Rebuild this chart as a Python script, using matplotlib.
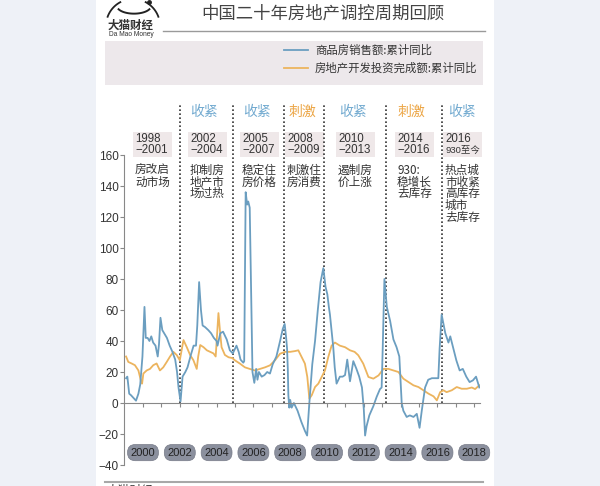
import numpy as np
import matplotlib
matplotlib.use('Agg')
import matplotlib.pyplot as plt
from matplotlib.patches import Rectangle
from matplotlib.font_manager import FontProperties

CJK = ['Noto Sans CJK SC', 'DejaVu Sans']
NUM = ['Liberation Sans', 'Noto Sans CJK SC', 'DejaVu Sans']

title = "中国二十年房地产调控周期回顾"
series_names = ["商品房销售额:累计同比", "房地产开发投资完成额:累计同比"]

# 商品房销售额:累计同比 (fractional year, %)
blue_t = [1999.08, 1999.15, 1999.25, 1999.35, 1999.5, 1999.62, 1999.75, 1999.85, 1999.97,
          2000.08, 2000.15, 2000.25, 2000.35, 2000.45, 2000.55, 2000.68, 2000.8, 2000.87,
          2000.95, 2001.05, 2001.15, 2001.3, 2001.45, 2001.6, 2001.75, 2001.85, 2001.93,
          2002.04, 2002.15, 2002.3, 2002.42, 2002.6, 2002.75, 2002.88, 2002.95, 2003.05,
          2003.15, 2003.24, 2003.37, 2003.55, 2003.7, 2003.85, 2004.0, 2004.05, 2004.2,
          2004.35, 2004.55, 2004.72, 2004.88, 2005.08, 2005.2, 2005.3, 2005.45, 2005.5,
          2005.58, 2005.66, 2005.72, 2005.8, 2005.95, 2006.05, 2006.15, 2006.22, 2006.3,
          2006.45, 2006.6, 2006.75, 2006.9, 2007.05, 2007.25, 2007.45, 2007.6, 2007.7,
          2007.78, 2007.83, 2007.87, 2007.9, 2007.95, 2008.0, 2008.08, 2008.2, 2008.4,
          2008.6, 2008.8, 2008.92, 2009.04, 2009.2, 2009.35, 2009.5, 2009.65, 2009.8,
          2009.92, 2010.02, 2010.1, 2010.16, 2010.34, 2010.42, 2010.52, 2010.7, 2010.85,
          2010.98, 2011.1, 2011.25, 2011.43, 2011.6, 2011.75, 2011.9, 2012.0, 2012.07,
          2012.15, 2012.3, 2012.52, 2012.7, 2012.88, 2012.97, 2013.03, 2013.12, 2013.25,
          2013.43, 2013.61, 2013.78, 2013.93, 2014.06, 2014.15, 2014.33, 2014.5, 2014.7,
          2014.88, 2015.03, 2015.15, 2015.33, 2015.5, 2015.7, 2015.9, 2016.05, 2016.12,
          2016.23, 2016.43, 2016.6, 2016.7, 2016.85, 2017.03, 2017.21, 2017.38, 2017.57,
          2017.75, 2017.93, 2018.1, 2018.28]
blue_v = [16, 17, 6, 5, 3, 1.5, 6, 12, 30,
          62, 42, 42, 40, 43, 39, 37, 30, 38,
          55, 47, 45, 42, 37, 33, 28, 20, 10,
          1, 17, 20, 23, 31, 37, 37, 50, 78,
          60, 50, 49, 47, 45, 42, 40, 37, 45,
          46, 41, 34, 32, 37, 33, 28, 26, 27,
          136, 128, 130, 126, 20, 13, 22, 15, 20,
          17, 18, 20, 19, 25, 30, 40, 48, 51,
          42, 35, 22, 5, -3, 2, -3, 0, -5,
          -12, -18, -21, 0, 25, 40, 60, 78, 87,
          75, 70, 62, 57, 36, 23, 12.5, 17, 17,
          18, 28, 14, 27, 22, 17, 10, -4, -21,
          -15, -8, -2, 4, 9, 10, 36, 80, 62,
          53, 41, 36, 30, 0, -5, -9, -8, -9,
          -7, -16, -5, 10, 15, 16, 16, 16, 35,
          57, 45, 39, 43, 36, 27.5, 21, 22, 17,
          13.5, 14.6, 17, 10]

# 房地产开发投资完成额:累计同比
orange_t = [1999.08, 1999.2, 1999.38, 1999.56, 1999.75, 1999.88, 1999.95, 2000.02, 2000.2,
            2000.38, 2000.56, 2000.74, 2000.92, 2001.1, 2001.29, 2001.47, 2001.65, 2001.83,
            2002.0, 2002.2, 2002.38, 2002.56, 2002.74, 2002.92, 2003.0, 2003.11, 2003.29,
            2003.47, 2003.65, 2003.83, 2003.95, 2004.1, 2004.18, 2004.27, 2004.45, 2004.65,
            2004.85, 2005.0, 2005.27, 2005.54, 2005.8, 2006.08, 2006.36, 2006.63, 2006.9,
            2007.17, 2007.45, 2007.72, 2008.0, 2008.26, 2008.44, 2008.62, 2008.8, 2008.93,
            2009.04, 2009.17, 2009.35, 2009.53, 2009.71, 2009.89, 2010.07, 2010.25, 2010.43,
            2010.7, 2010.98, 2011.25, 2011.5, 2011.7, 2011.97, 2012.25, 2012.52, 2012.8,
            2013.07, 2013.34, 2013.61, 2013.88, 2014.15, 2014.43, 2014.7, 2014.97, 2015.24,
            2015.52, 2015.79, 2015.97, 2016.15, 2016.33, 2016.5, 2016.78, 2017.05, 2017.32,
            2017.6, 2017.87, 2018.05, 2018.28]
orange_v = [30, 26.5, 25.5, 24.4, 21, 14.7, 12.5, 19, 21,
            22, 24.4, 25.5, 21, 23, 26.5, 30, 33, 31,
            27.6, 40.6, 36, 31, 27.6, 22, 30, 37.4, 36,
            34, 33, 32, 30, 58, 47, 36, 31, 29.5,
            29, 27.5, 25.4, 23, 22, 21, 22, 23, 24.3,
            27.5, 31.8, 33, 33, 33.5, 34, 29.7, 25.4, 16.8,
            2.8, 5, 10.3, 12.5, 16.8, 21, 29.7, 37, 39,
            37, 36, 34, 33, 30.8, 25.4, 16.8, 15.7, 17.8,
            22, 22, 21, 20, 15.7, 13.5, 11.4, 10.3, 8.2,
            6, 4.3, 1.7, 7, 8.2, 7, 8.2, 10.3, 9.2,
            9.2, 10, 9, 11.4]

year_labels = [2000, 2002, 2004, 2006, 2008, 2010, 2012, 2014, 2016, 2018]
y_ticks = [-40, -20, 0, 20, 40, 60, 80, 100, 120, 140, 160]
boundaries = [2002.0, 2004.9, 2007.66, 2009.85, 2013.2, 2016.25]
period_years = ["1998\n−2001", "2002\n−2004", "2005\n−2007", "2008\n−2009",
                "2010\n−2013", "2014\n−2016", "2016\n930至今"]
period_notes = ["房改启\n动市场", "抑制房\n地产市\n场过热", "稳定住\n房价格", "刺激住\n房消费",
                "遏制房\n价上涨", "930:\n稳增长\n去库存", "热点城\n市收紧\n高库存\n城市\n去库存"]
policy = ["", "收紧", "收紧", "刺激", "收紧", "刺激", "收紧"]

BLUE = '#6b9ec0'
ORANGE = '#ecb45e'
policy_colors = {"收紧": '#72aad0', "刺激": '#eca544'}

fig = plt.figure(figsize=(6, 4.86), dpi=100)
fig.patch.set_facecolor('#eef1f7')

bg = fig.add_axes([0, 0, 1, 1], zorder=0)
bg.set_xlim(0, 600)
bg.set_ylim(486, 0)
bg.axis('off')
bg.add_patch(Rectangle((96, 0), 398, 486, fc='white', ec='none'))
bg.add_patch(Rectangle((105, 41), 378, 44, fc='#ede8eb', ec='none'))

# logo
a = np.radians(np.linspace(118, 160, 30))
bg.plot(133 + 27 * np.cos(a), 26 - 27 * np.sin(a), color='#222', lw=1.3)
a = np.radians(np.linspace(20, 62, 30))
bg.plot(133 + 27 * np.cos(a), 26 - 27 * np.sin(a), color='#222', lw=1.3)
a = np.radians(np.linspace(205, 335, 40))
bg.plot(134 + 17 * np.cos(a), 6 - 17 * np.sin(a) * 0.45, color='#222', lw=1.4)
bg.plot([149], [2], 'o', color='#222', ms=2.5)
bg.text(131, 25, "大猫财经", ha='center', va='center', fontsize=8.3, family=CJK,
        color='#333', fontweight='bold')
bg.text(131, 34, "Da Mao Money", ha='center', va='center', fontsize=4.8, family=NUM, color='#333')

bg.text(323, 14, title, ha='center', va='center', fontsize=12.5, color='#444', family=CJK)
bg.plot([163, 485], [31, 31], color='#9a9a9a', lw=1)
bg.plot([105, 483], [482, 482], color='#a8a8a8', lw=1.5)
bg.text(106, 484, "大猫财经", va='top', fontsize=8.5, family=CJK, color='#333')

# period annotations
col_left = [135, 190, 242, 287, 338, 397, 445]
col_center = [152, 204, 257, 302, 353, 411, 462]
for i in range(len(period_years)):
    x = col_left[i]
    bg.add_patch(Rectangle((x - 2, 132), 39, 25, fc='#efe8e9', ec='none'))
    l1, l2 = period_years[i].split("\n")
    bg.text(x, 138.5, l1, ha='left', va='center', fontsize=8.3, family=NUM, color='#333')
    bg.text(x, 150, l2, ha='left', va='center', fontsize=8.3 if i < 6 else 6.8,
            family=NUM, color='#333')
    for j, line in enumerate(period_notes[i].split("\n")):
        bg.text(x, 170.5 + 11.7 * j, line, ha='left', va='center', fontsize=8.4,
                family=CJK, color='#333')
    if policy[i]:
        bg.text(col_center[i], 112, policy[i], ha='center', va='center', fontsize=10,
                family=CJK, color=policy_colors[policy[i]])

# main chart
x0 = 2000 + (124 - 143) / 18.4
x1 = 2000 + (480 - 143) / 18.4
ax = fig.add_axes([124 / 600, 21 / 486, 356 / 600, 310 / 486], zorder=1)
ax.patch.set_alpha(0)
ax.set_xlim(x0, x1)
ax.set_ylim(-40, 160)
for s in ['top', 'right']:
    ax.spines[s].set_visible(False)
ax.spines['left'].set_color('#888')
ax.spines['bottom'].set_position(('data', 0))
ax.spines['bottom'].set_color('#888')
ax.set_yticks(y_ticks)
ax.tick_params(axis='y', direction='out', length=3, pad=1, labelsize=8.5,
               labelcolor='#333', color='#888')
for lab in ax.get_yticklabels():
    lab.set_family(NUM)
ax.set_xticks(range(2000, 2019))
ax.tick_params(axis='x', direction='out', length=3, labelbottom=False, color='#888')

ax.vlines(boundaries, 0, 193, colors='#333', linestyles=(0, (1, 1.4)), lw=1.2, clip_on=False)

lo, = ax.plot(orange_t, orange_v, color=ORANGE, lw=1.3)
lb, = ax.plot(blue_t, blue_v, color=BLUE, lw=1.3)

for y in year_labels:
    ax.text(y, -32, str(y), ha='center', va='center', fontsize=8, family=NUM, color='#222',
            bbox=dict(boxstyle='round,pad=0.28,rounding_size=0.7', fc='#8b909e',
                      ec='#777b88', lw=0.5))

leg = ax.legend([lb, lo], series_names, loc='upper left', bbox_to_anchor=(284, 45),
                bbox_transform=bg.transData, frameon=False,
                prop=FontProperties(family=CJK, size=8.2), handlelength=2.1,
                handletextpad=0.6, labelspacing=0.55, borderpad=0, borderaxespad=0)
for t in leg.get_texts():
    t.set_color('#333')

fig.savefig('out.png', dpi=100, facecolor=fig.get_facecolor())
